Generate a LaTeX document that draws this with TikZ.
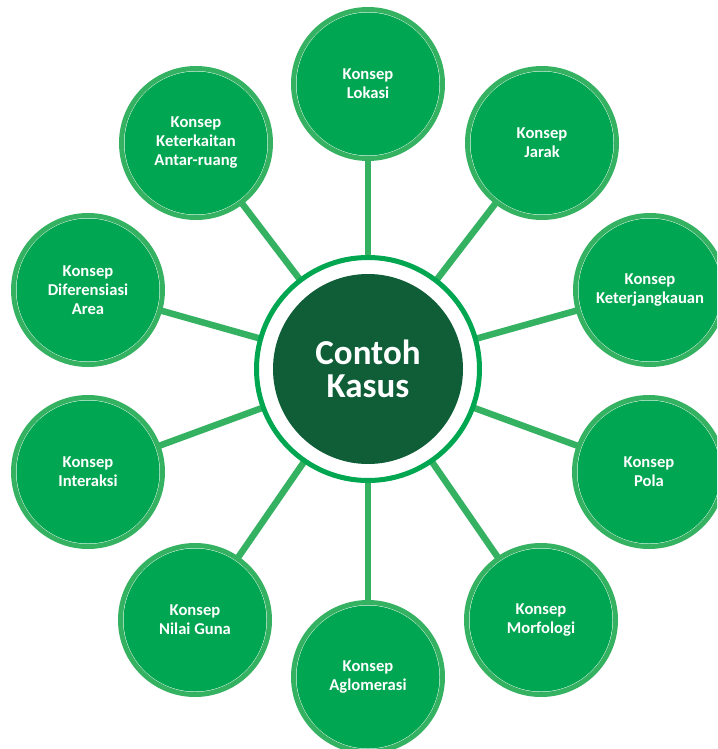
\documentclass[tikz,border=0pt]{standalone}
\usepackage{fontspec}
\setmainfont{Carlito}
\usetikzlibrary{backgrounds}
\definecolor{satfill}{RGB}{0,166,81}
\definecolor{ringgreen}{RGB}{52,178,98}
\definecolor{hubring}{RGB}{0,166,80}
\definecolor{hubdark}{RGB}{15,94,55}
\tikzset{
  sat/.style={circle, inner sep=0pt, minimum size=149pt, draw=ringgreen, line width=5pt,
    fill=white, align=center, text=white,
    font=\fontsize{16.6}{19}\selectfont\bfseries,
    path picture={\fill[satfill] (path picture bounding box.center) circle (71.5pt);}},
  hub/.style={circle, inner sep=0pt, minimum size=223pt, draw=hubring, line width=5pt,
    fill=white, align=center, text=white,
    font=\fontsize{35}{33}\selectfont\bfseries,
    path picture={\fill[hubdark] (path picture bounding box.center) circle (95pt);}},
  link/.style={draw=ringgreen, line width=6.5pt}
}
\begin{document}
\begin{tikzpicture}[x=1pt,y=-1pt]
\useasboundingbox (0,0) rectangle (717,749);
\clip (0,0) rectangle (717,749);
\node[hub] (hub) at (368,369) {Contoh\\Kasus};
\node[sat] (lok) at (368,84) {Konsep\\Lokasi};
\node[sat] (jar) at (542,143) {Konsep\\Jarak};
\node[sat] (ktj) at (650,290) {Konsep\\Keterjangkauan};
\node[sat] (pol) at (649,472) {Konsep\\Pola};
\node[sat] (mor) at (541,620) {Konsep\\Morfologi};
\node[sat] (agl) at (368,677) {Konsep\\Aglomerasi};
\node[sat] (nil) at (195,620) {Konsep\\Nilai Guna};
\node[sat] (int) at (88,472) {Konsep\\Interaksi};
\node[sat] (dif) at (88,290) {Konsep\\Diferensiasi\\Area};
\node[sat] (ket) at (196,143) {Konsep\\Keterkaitan\\Antar-ruang};
\begin{scope}[on background layer]
\fill[white] (0,0) rectangle (717,749);
\foreach \n in {lok,jar,ktj,pol,mor,agl,nil,int,dif,ket}
  \draw[link] (hub.center) -- (\n.center);
\end{scope}
\end{tikzpicture}
\end{document}
